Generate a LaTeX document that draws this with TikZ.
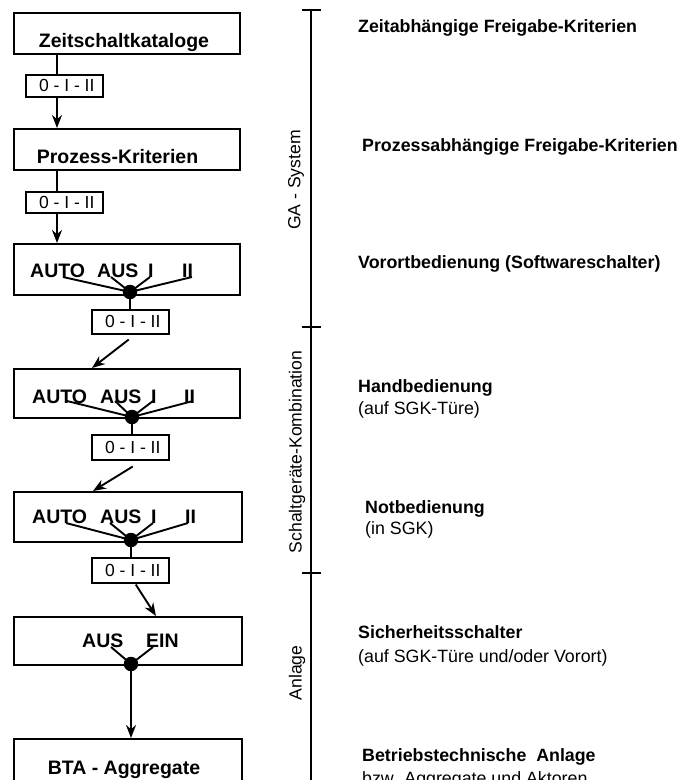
\documentclass[tikz,border=0pt]{standalone}
\usepackage{fontspec}
\setmainfont{Liberation Sans}
\usetikzlibrary{arrows.meta}
\begin{document}
\begin{tikzpicture}[x=1pt,y=-1pt,
  box/.style={draw,line width=2pt,inner sep=0,anchor=north west},
  sbox/.style={draw,line width=1.5pt,inner sep=0,anchor=north west,
    font=\fontsize{17.5}{20}\selectfont},
  conn/.style={line width=1.9pt},
  arr/.style={line width=1.9pt,-{Stealth[length=13pt,width=10pt]}},
  dot/.style={circle,fill,inner sep=0,minimum size=14.5pt},
  btxt/.style={font=\fontsize{19.5}{23}\bfseries\selectfont,inner sep=0,anchor=base},
  bsw/.style={font=\fontsize{19.5}{23}\bfseries\selectfont,inner sep=0,anchor=base west},
  rb/.style={font=\fontsize{17.8}{21}\bfseries\selectfont,inner sep=0,anchor=base west},
  rr/.style={font=\fontsize{17.8}{21}\selectfont,inner sep=0,anchor=base west},
  lab/.style={font=\fontsize{17.6}{21}\selectfont,inner sep=0,rotate=90},
  scaleline/.style={line width=2pt}]
\clip (0,0) rectangle (680,780);
\fill[white] (0,0) rectangle (680,780);

% big boxes
\node[box,minimum width=226pt,minimum height=41pt] (b1) at (13,12) {};
\node[box,minimum width=226pt,minimum height=41pt] (b2) at (13,128) {};
\node[box,minimum width=226pt,minimum height=51pt] (b3) at (13,243) {};
\node[box,minimum width=226pt,minimum height=49pt] (b4) at (13,368) {};
\node[box,minimum width=228pt,minimum height=50pt] (b5) at (13,491) {};
\node[box,minimum width=228pt,minimum height=48pt] (b6) at (13,616) {};
\node[box,minimum width=228pt,minimum height=60pt] (b7) at (13,738) {};

% small boxes
\node[sbox,minimum width=77pt,minimum height=22pt] (sb1) at (25,74) {\hspace*{5pt}0 - I - II};
\node[sbox,minimum width=77pt,minimum height=21pt] (sb2) at (25,191) {\hspace*{5pt}0 - I - II};
\node[sbox,minimum width=77pt,minimum height=24pt] (sb3) at (91,309) {\hspace*{5pt}0 - I - II};
\node[sbox,minimum width=77pt,minimum height=25pt] (sb4) at (91,434) {\hspace*{5pt}0 - I - II};
\node[sbox,minimum width=77pt,minimum height=25pt] (sb5) at (91,557) {\hspace*{5pt}0 - I - II};

% box texts
\node[btxt] (t1) at (124,47) {Zeitschaltkataloge};
\node[btxt] (t2) at (117.5,163) {Prozess-Kriterien};
\node[bsw] (a3) at (30,277) {AUTO};
\node[bsw] (u3) at (97,277) {AUS};
\node[bsw] (i3) at (148,277) {I};
\node[bsw] (ii3) at (182,277) {II};
\node[bsw] (a4) at (32,403) {AUTO};
\node[bsw] (u4) at (100,403) {AUS};
\node[bsw] (i4) at (151,403) {I};
\node[bsw] (ii4) at (184,403) {II};
\node[bsw] (a5) at (32,523) {AUTO};
\node[bsw] (u5) at (100,523) {AUS};
\node[bsw] (i5) at (151,523) {I};
\node[bsw] (ii5) at (185,523) {II};
\node[bsw] (u6) at (82,647) {AUS};
\node[bsw] (e6) at (146,647) {EIN};
\node[btxt] (t7) at (124,774) {BTA - Aggregate};

% switch contact points
\coordinate (p3a) at (63,277);  \coordinate (p3b) at (111,277);
\coordinate (p3c) at (150,277); \coordinate (p3d) at (192,277);
\coordinate (p4a) at (67,401);  \coordinate (p4b) at (115,401);
\coordinate (p4c) at (153,401); \coordinate (p4d) at (193,401);
\coordinate (p5a) at (66,523);  \coordinate (p5b) at (110,523);
\coordinate (p5c) at (153,523); \coordinate (p5d) at (188,523);
\coordinate (p6a) at (111,647); \coordinate (p6b) at (153,647);

% dots
\node[dot] (d3) at (130,292) {};
\node[dot] (d4) at (132,417) {};
\node[dot] (d5) at (131,540) {};
\node[dot] (d6) at (131,664) {};

\foreach \k in {a,b,c,d} {
  \draw[conn] (d3.center) -- (p3\k);
  \draw[conn] (d4.center) -- (p4\k);
  \draw[conn] (d5.center) -- (p5\k);
}
\draw[conn] (d6.center) -- (p6a);
\draw[conn] (d6.center) -- (p6b);

% connectors
\draw[conn] ([xshift=44pt]b1.south west) -- ([xshift=32pt]sb1.north west);
\draw[arr] ([xshift=32pt]sb1.south west) -- ([xshift=44pt]b2.north west);
\draw[conn] ([xshift=44pt]b2.south west) -- ([xshift=32pt]sb2.north west);
\draw[arr] ([xshift=32pt]sb2.south west) -- ([xshift=44pt]b3.north west);
\draw[conn] (d3.center) -- (d3.center |- sb3.north);
\draw[arr] ([xshift=-1.5pt,yshift=-5pt]sb3.south) -- ([xshift=79pt]b4.north west);
\draw[conn] (d4.center) -- (d4.center |- sb4.north);
\draw[arr] ([xshift=2.5pt,yshift=-6pt]sb4.south) -- ([xshift=80pt]b5.north west);
\draw[conn] (d5.center) -- (d5.center |- sb5.north);
\draw[arr] ([xshift=5.5pt,yshift=-1pt]sb5.south) -- ([xshift=143pt]b6.north west);
\draw[arr] (d6.center) -- (d6.center |- b7.north);

% scale on the right
\coordinate (s1) at (311,10);
\coordinate (s2) at (311,327);
\coordinate (s3) at (311,573);
\coordinate (s4) at (311,790);
\draw[scaleline] (s1) -- (s4);
\draw[scaleline] ([xshift=-9pt]s1) -- ([xshift=10pt]s1);
\draw[scaleline] ([xshift=-9pt]s2) -- ([xshift=10pt]s2);
\draw[scaleline] ([xshift=-9pt]s3) -- ([xshift=10pt]s3);

\node[lab] (l1) at (296,180) {GA - System};
\node[lab] (l2) at (297,452) {Schaltgeräte-Kombination};
\node[lab] (l3) at (297,673) {Anlage};

% right texts
\node[rb] (r1) at (358,32) {Zeitabhängige Freigabe-Kriterien};
\node[rb] (r2) at (362,151) {Prozessabhängige Freigabe-Kriterien};
\node[rb] (r3) at (358,268) {Vorortbedienung (Softwareschalter)};
\node[rb] (r4) at (358,392) {Handbedienung};
\node[rr] (r4b) at (358,414) {(auf SGK-Türe)};
\node[rb] (r5) at (365,513) {Notbedienung};
\node[rr] (r5b) at (365,534) {(in SGK)};
\node[rb] (r6) at (358,638) {Sicherheitsschalter};
\node[rr] (r6b) at (358,662) {(auf SGK-Türe und/oder Vorort)};
\node[rb] (r7) at (362,761) {Betriebstechnische\ \ Anlage};
\node[rr] (r7b) at (362,784) {bzw. Aggregate und Aktoren};
\end{tikzpicture}
\end{document}
